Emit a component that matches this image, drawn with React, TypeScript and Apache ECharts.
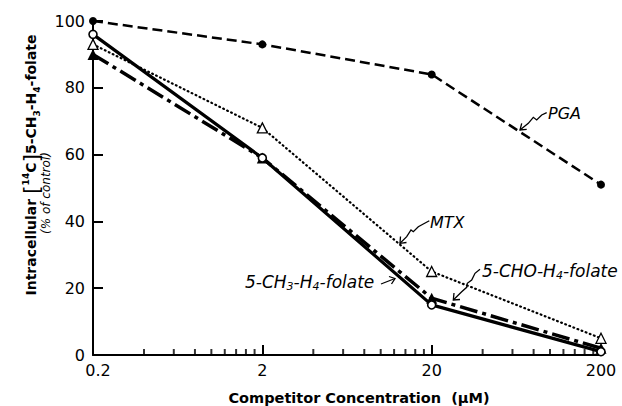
import React, { useEffect, useRef } from "react";
import * as echarts from "echarts";

const concentrations = [0.2, 2, 20, 200];
const pga = [100, 93, 84, 51];
const mtx = [93, 68, 25, 5];
const ch3Folate = [96, 59, 15, 1];
const choFolate = [90, 59, 17, 2];
const xLabelValues = [0.2, 2, 20, 200];
const xMajorTicks = [2, 20, 200];
const xMinorTicks = [
  0.4, 0.6, 0.8, 1, 1.2, 1.4, 1.6, 1.8,
  4, 6, 8, 10, 12, 14, 16, 18,
  40, 60, 80, 100, 120, 140, 160, 180,
];

const FONT = "DejaVu Sans";
const X_MIN = Math.log10(0.2);
const X_MAX = Math.log10(200);
const lg = (v: number) => Math.log10(v);

function pairs(ys: number[]) {
  return concentrations.map((x, i) => [lg(x), ys[i]]);
}

const subRich = (size: number, italic: boolean, bold: boolean) => ({
  b: { fontSize: size, fontFamily: FONT, fontStyle: italic ? "italic" : "normal", fontWeight: bold ? "bold" : "normal", lineHeight: 20, fill: "#000" },
  sub: { fontSize: Math.round(size * 0.65), fontFamily: FONT, fontStyle: italic ? "italic" : "normal", fontWeight: bold ? "bold" : "normal", lineHeight: 10, verticalAlign: "bottom", fill: "#000" },
  sup: { fontSize: Math.round(size * 0.65), fontFamily: FONT, fontWeight: bold ? "bold" : "normal", lineHeight: 11, verticalAlign: "top", fill: "#000" },
  br: { fontSize: 22, fontFamily: FONT, fontWeight: "normal", lineHeight: 20, fill: "#000" },
});

const arrowStyle = { stroke: "#000", lineWidth: 1.3, fill: null as any };

function arrow(points: number[][], head: number[][]) {
  return [
    { type: "polyline", shape: { points }, style: arrowStyle, silent: true },
    { type: "polyline", shape: { points: head }, style: arrowStyle, silent: true },
  ];
}

function label(x: number, y: number, text: string, size: number) {
  return {
    type: "text",
    x,
    y,
    silent: true,
    style: {
      text,
      rich: subRich(size, true, false),
      align: "left",
      verticalAlign: "middle",
      fill: "#000",
    },
  };
}

const baseX = {
  type: "value",
  min: X_MIN,
  max: X_MAX,
  position: "bottom",
  splitLine: { show: false },
  minorTick: { show: false },
};

const tickLabelStyle = { fontSize: 16, fontFamily: FONT, color: "#000", lineHeight: 12 };

const option: any = {
  animation: false,
  backgroundColor: "#fff",
  grid: { left: 93, right: 21, top: 21, bottom: 51 },
  xAxis: [
    {
      ...baseX,
      axisLine: { show: true, onZero: false, lineStyle: { color: "#000", width: 2 } },
      axisTick: { show: false },
      axisLabel: {
        customValues: xLabelValues.map(lg),
        formatter: (v: number) => {
          const s = String(+Math.pow(10, v).toPrecision(3));
          return v < 0 ? "{first|" + s + "}" : "{n|" + s + "}";
        },
        rich: {
          n: tickLabelStyle,
          first: { ...tickLabelStyle, padding: [0, 0, 0, 10] },
        },
        ...tickLabelStyle,
        margin: 9,
        showMinLabel: true,
        showMaxLabel: true,
      },
    },
    {
      ...baseX,
      axisLine: { show: false, onZero: false },
      axisTick: { show: true, inside: true, length: 10, customValues: xMajorTicks.map(lg), lineStyle: { color: "#000", width: 2 } },
      axisLabel: { show: false },
    },
  ],
  yAxis: {
    type: "value",
    min: 0,
    max: 100,
    interval: 20,
    axisLine: { show: true, onZero: false, lineStyle: { color: "#000", width: 2 } },
    axisTick: { show: true, inside: true, length: 10, lineStyle: { color: "#000", width: 2 } },
    axisLabel: { ...tickLabelStyle, margin: 8 },
    splitLine: { show: false },
  },
  series: [
    {
      name: "minor ticks",
      type: "scatter",
      data: xMinorTicks.map((v) => [lg(v), 0]),
      symbol: "rect",
      symbolSize: [2, 6],
      symbolOffset: [0, -3],
      itemStyle: { color: "#000" },
      silent: true,
      clip: false,
      z: 1,
    },
    {
      name: "PGA",
      type: "line",
      data: pairs(pga),
      symbol: "circle",
      symbolSize: 8,
      itemStyle: { color: "#000" },
      lineStyle: { color: "#000", width: 2.5, type: [10, 5] },
      emphasis: { disabled: true },
    },
    {
      name: "MTX",
      type: "line",
      data: pairs(mtx),
      symbol: "triangle",
      symbolSize: 10,
      itemStyle: { color: "#fff", borderColor: "#000", borderWidth: 1.3 },
      lineStyle: { color: "#000", width: 2.2, type: [0.8, 3.6], cap: "round" },
      emphasis: { disabled: true },
    },
    {
      name: "5-CHO-H4-folate",
      type: "line",
      data: pairs(choFolate),
      symbol: "triangle",
      symbolSize: 11,
      itemStyle: { color: "#000" },
      lineStyle: { color: "#000", width: 3.5, type: [18, 5, 4, 5] },
      emphasis: { disabled: true },
    },
    {
      name: "5-CH3-H4-folate",
      type: "line",
      data: pairs(ch3Folate),
      symbol: "circle",
      symbolSize: 8,
      itemStyle: { color: "#fff", borderColor: "#000", borderWidth: 1.6 },
      lineStyle: { color: "#000", width: 3.2, type: "solid" },
      emphasis: { disabled: true },
    },
  ],
  graphic: [
    {
      type: "text",
      x: 31,
      y: 165,
      rotation: Math.PI / 2,
      silent: true,
      style: {
        text: "{b|Intracellular }{br|[}{sup|14}{b|C}{br|]}{b|5-CH}{sub|3}{b|-H}{sub|4}{b|-folate}",
        rich: subRich(14, false, true),
        align: "center",
        verticalAlign: "middle",
        fill: "#000",
      },
    },
    {
      type: "text",
      x: 46,
      y: 193,
      rotation: Math.PI / 2,
      silent: true,
      style: {
        text: "(% of control)",
        fontSize: 12,
        fontStyle: "italic",
        fontFamily: FONT,
        align: "center",
        verticalAlign: "middle",
        fill: "#000",
      },
    },
    {
      type: "text",
      x: 359,
      y: 398,
      silent: true,
      style: {
        text: "Competitor Concentration  (\u03bcM)",
        fontSize: 14.5,
        fontWeight: "bold",
        fontFamily: FONT,
        align: "center",
        verticalAlign: "middle",
        fill: "#000",
      },
    },
    label(548, 113, "{b|PGA}", 16),
    label(430, 222, "{b|MTX}", 16),
    label(482, 271, "{b|5-CHO-H}{sub|4}{b|-folate}", 17),
    label(245, 282, "{b|5-CH}{sub|3}{b|-H}{sub|4}{b|-folate}", 17),
    ...arrow(
      [[546.7, 112.7], [541.7, 115], [536.7, 120], [533.3, 117.3], [528.3, 123.3], [520, 130]],
      [[521.7, 123.3], [520, 130], [526.7, 129.3]]
    ),
    ...arrow(
      [[429.3, 220.7], [423.3, 224], [418.3, 226.7], [413.3, 231.7], [411, 230], [406.7, 236.7], [400, 243.3]],
      [[400.5, 236.5], [400, 243.3], [406.5, 242.5]]
    ),
    ...arrow(
      [[480, 269.3], [475, 273.3], [471.7, 280], [467.3, 283.3], [466.7, 287.3], [461.7, 291.7], [453.3, 300]],
      [[454, 293], [453.3, 300], [460, 299.5]]
    ),
    ...arrow(
      [[381, 284], [395, 278.5]],
      [[389, 276.5], [395, 278.5], [391.5, 284]]
    ),
  ],
};

export default function App() {
  const ref = useRef<HTMLDivElement>(null);
  useEffect(() => {
    const chart = echarts.init(ref.current!, null, { renderer: "svg" });
    chart.setOption(option);
    return () => chart.dispose();
  }, []);
  return (
    <div
      ref={ref}
      style={{ position: "fixed", left: 0, top: 0, width: 622, height: 406, background: "#fff" }}
    />
  );
}
